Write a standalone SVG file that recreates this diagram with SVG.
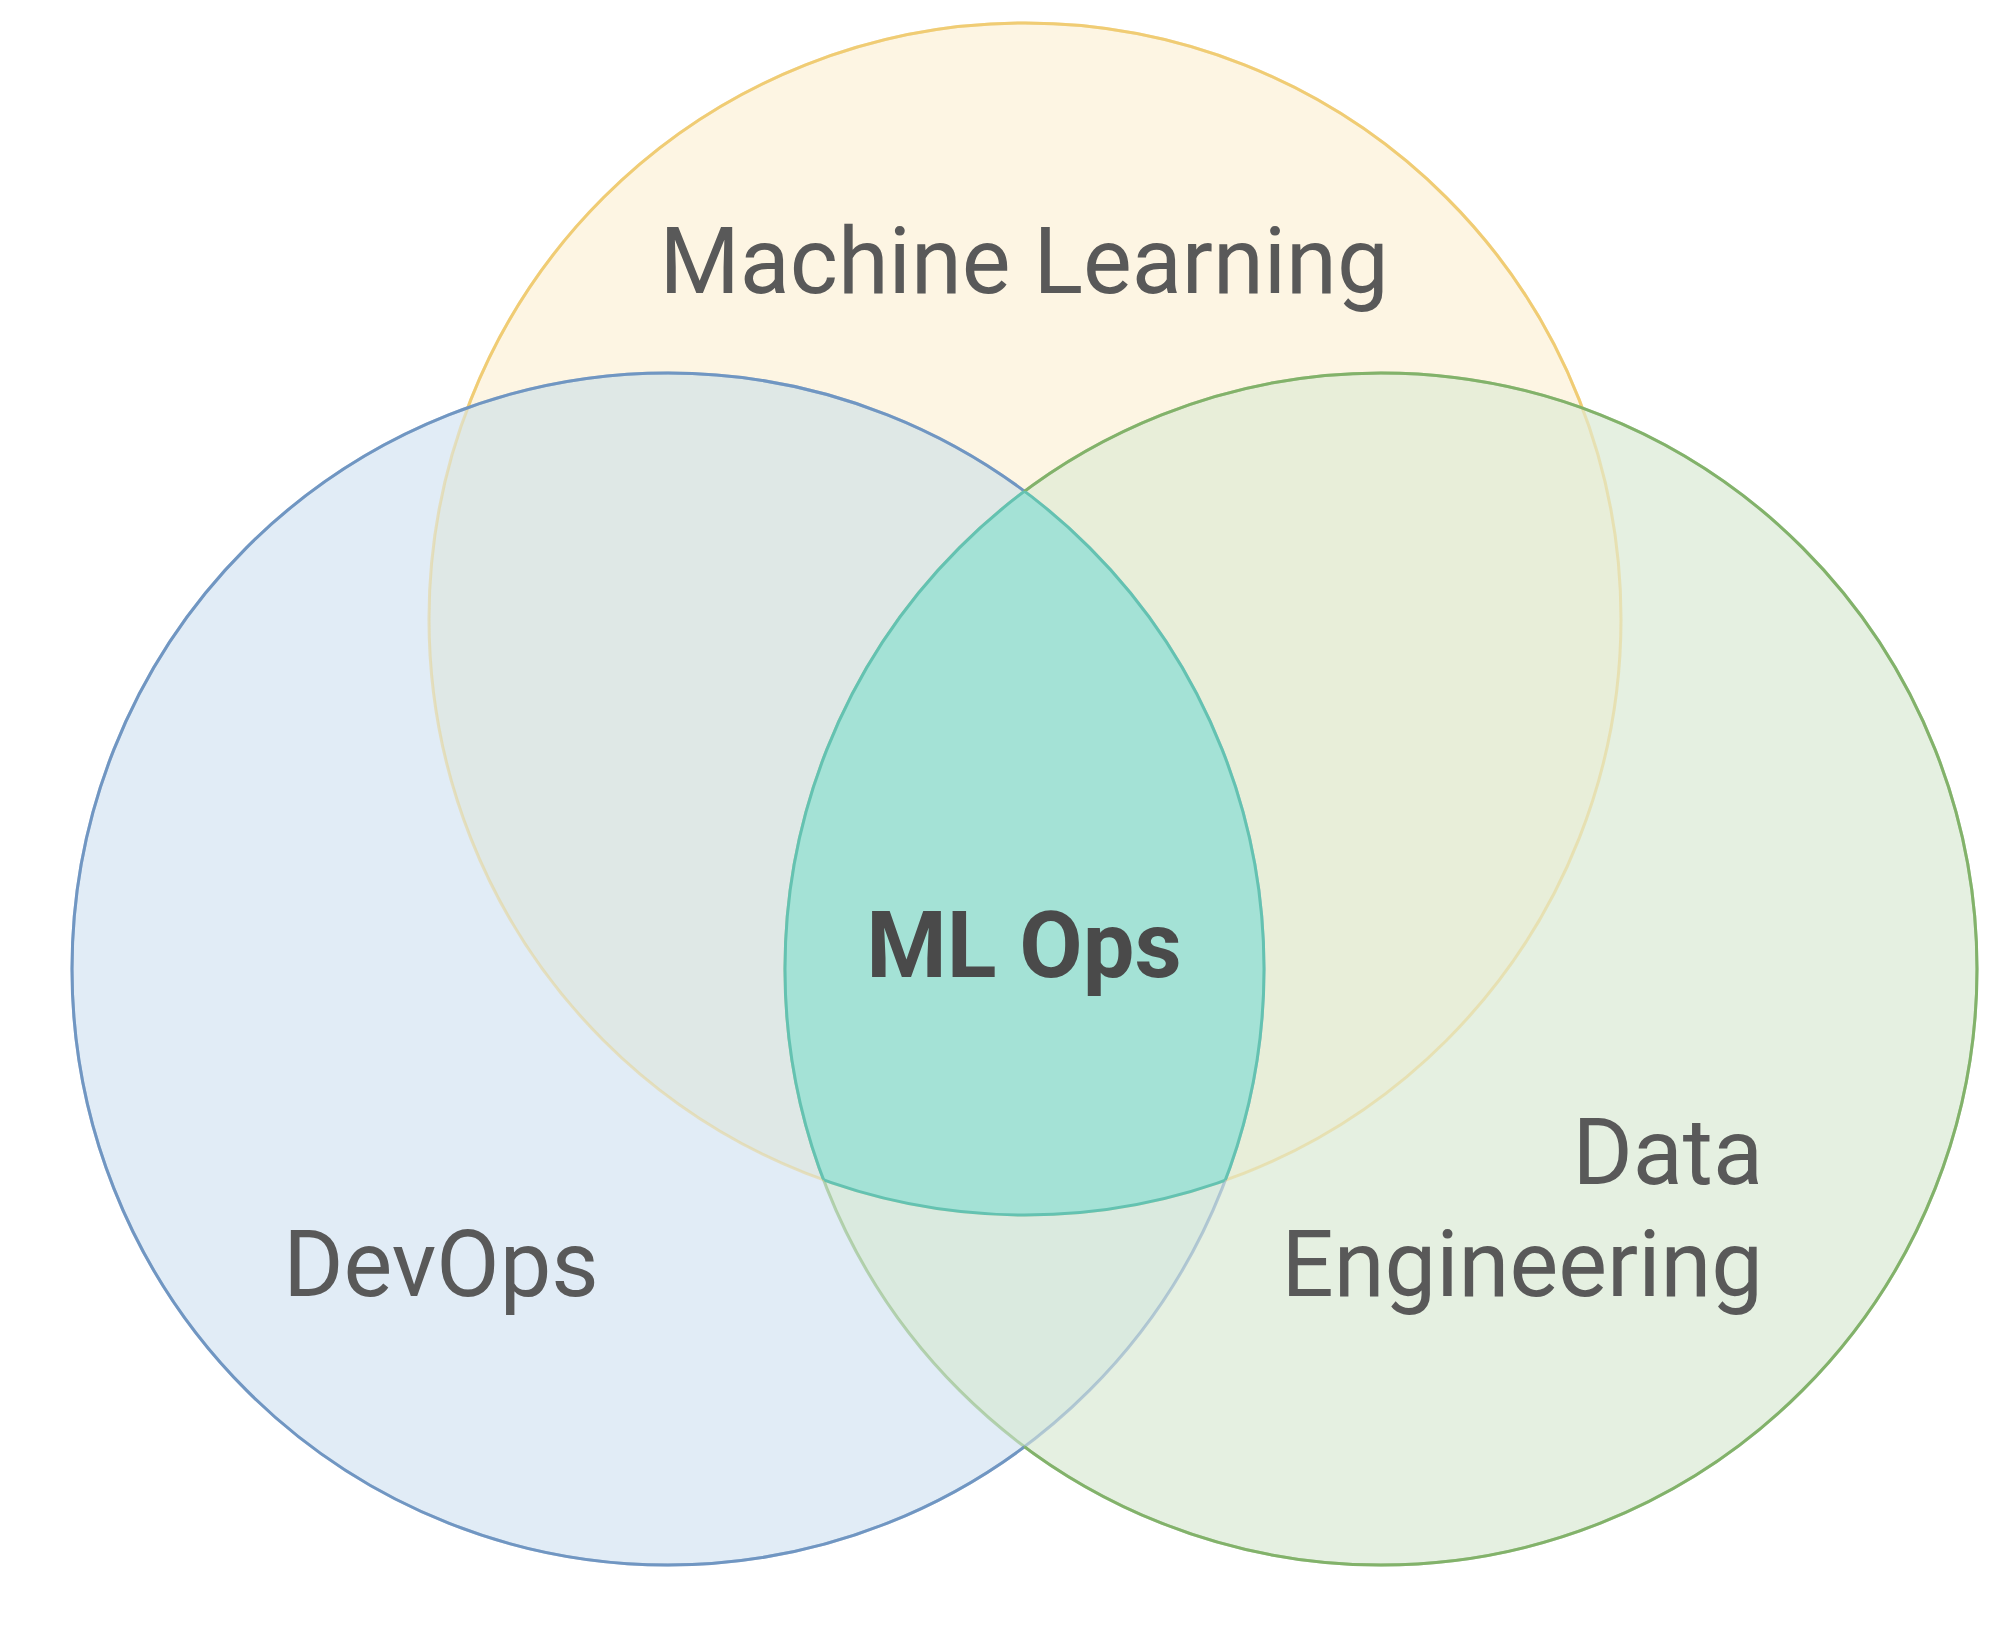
<svg xmlns="http://www.w3.org/2000/svg" xmlns:xlink="http://www.w3.org/1999/xlink" width="2000" height="1638" viewBox="0 0 2000 1638">
  <style>
    .lbl { font-family: Roboto, "Liberation Sans", Arial, sans-serif; font-size: 92px; fill: #595959; }
    .lbl-b { font-family: Roboto, "Liberation Sans", Arial, sans-serif; font-size: 92px; font-weight: bold; fill: #4a4a4a; }
    .ln { fill: none; stroke-width: 3; }
  </style>
  <defs>
    <circle id="Y" cx="1025" cy="619" r="596"/>
    <circle id="B" cx="668" cy="969" r="596"/>
    <circle id="G" cx="1381" cy="969" r="596"/>
    <clipPath id="cY"><circle cx="1025" cy="619" r="596"/></clipPath>
    <clipPath id="cB"><circle cx="668" cy="969" r="596"/></clipPath>
    <clipPath id="cG"><circle cx="1381" cy="969" r="596"/></clipPath>
    <clipPath id="oB"><path clip-rule="evenodd" d="M0 0H2000V1638H0Z M72 969a596 596 0 1 0 1192 0a596 596 0 1 0 -1192 0Z"/></clipPath>
    <clipPath id="oG"><path clip-rule="evenodd" d="M0 0H2000V1638H0Z M785 969a596 596 0 1 0 1192 0a596 596 0 1 0 -1192 0Z"/></clipPath>
  </defs>

  <rect width="2000" height="1638" fill="#ffffff"/>

  <g id="node-machine-learning">
    <use xlink:href="#Y" fill="#fdf5e3"/>
    <text class="lbl" x="1024" y="293" text-anchor="middle">Machine Learning</text>
  </g>
  <g id="node-devops">
    <use xlink:href="#B" fill="#e1ecf6"/>
    <text class="lbl" x="441" y="1296" text-anchor="middle">DevOps</text>
  </g>
  <g id="node-data-engineering">
    <use xlink:href="#G" fill="#e5f0e1"/>
    <text class="lbl" x="1763" y="1184" text-anchor="end">Data</text>
    <text class="lbl" x="1763" y="1296" text-anchor="end">Engineering</text>
  </g>

  <g id="overlaps">
    <g clip-path="url(#cB)"><use xlink:href="#Y" fill="#dfe8e6"/></g>
    <g clip-path="url(#cG)"><use xlink:href="#Y" fill="#e8eed9"/></g>
    <g clip-path="url(#cG)"><use xlink:href="#B" fill="#daeadf"/></g>
  </g>

  <g id="outlines">
    <use xlink:href="#Y" class="ln" stroke="#e6cf7e" stroke-opacity="0.45"/>
    <use xlink:href="#B" class="ln" stroke="#7396c2" stroke-opacity="0.45"/>
    <use xlink:href="#G" class="ln" stroke="#84b36d" stroke-opacity="0.5"/>
    <g clip-path="url(#oB)"><g clip-path="url(#oG)"><use xlink:href="#Y" class="ln" stroke="#f0cc74"/></g></g>
    <g clip-path="url(#oG)"><use xlink:href="#B" class="ln" stroke="#7096c2"/></g>
    <g clip-path="url(#oB)"><use xlink:href="#G" class="ln" stroke="#82b26a"/></g>
  </g>

  <g id="node-ml-ops">
    <g clip-path="url(#cB)"><g clip-path="url(#cG)"><use xlink:href="#Y" fill="#a4e2d6"/></g></g>
    <g clip-path="url(#cB)"><g clip-path="url(#cG)"><use xlink:href="#Y" class="ln" stroke="#64c2b1"/></g></g>
    <g clip-path="url(#cY)"><g clip-path="url(#cG)"><use xlink:href="#B" class="ln" stroke="#64c2b1"/></g></g>
    <g clip-path="url(#cY)"><g clip-path="url(#cB)"><use xlink:href="#G" class="ln" stroke="#64c2b1"/></g></g>
    <text class="lbl-b" x="1024" y="977" text-anchor="middle">ML Ops</text>
  </g>
</svg>
